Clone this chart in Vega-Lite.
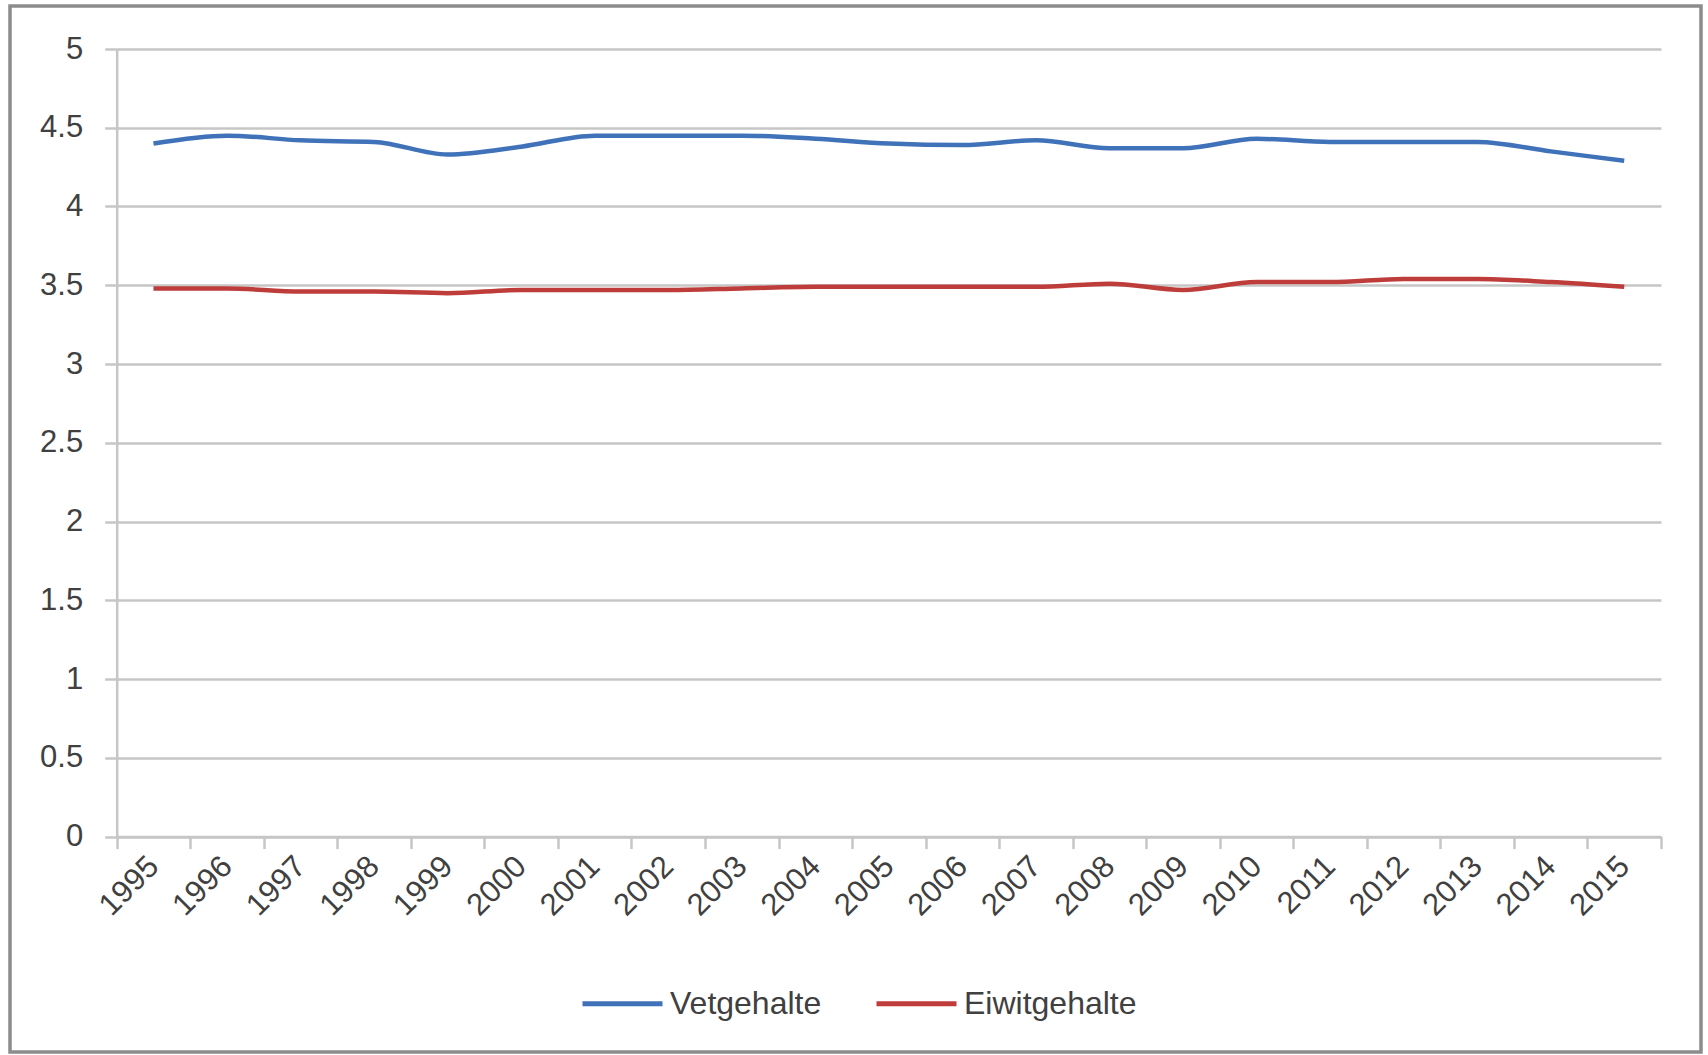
{
  "$schema": "https://vega.github.io/schema/vega-lite/v6.json",
  "width": 1691,
  "height": 1046,
  "autosize": {"type": "none"},
  "padding": {"left": 10, "top": 6, "right": 7, "bottom": 3},
  "background": "#ffffff",
  "config": {
    "view": {"stroke": "#8c8c8c", "strokeWidth": 3.5, "fill": "#ffffff"},
    "font": "Liberation Sans",
    "axis": {"labelFont": "Liberation Sans", "labelColor": "#404040"},
    "legend": {"labelFont": "Liberation Sans", "labelColor": "#404040"}
  },
  "data": {
    "values": [
      {"year": "1995", "series": "Vetgehalte", "value": 4.40},
      {"year": "1996", "series": "Vetgehalte", "value": 4.45},
      {"year": "1997", "series": "Vetgehalte", "value": 4.42},
      {"year": "1998", "series": "Vetgehalte", "value": 4.41},
      {"year": "1999", "series": "Vetgehalte", "value": 4.33},
      {"year": "2000", "series": "Vetgehalte", "value": 4.38},
      {"year": "2001", "series": "Vetgehalte", "value": 4.45},
      {"year": "2002", "series": "Vetgehalte", "value": 4.45},
      {"year": "2003", "series": "Vetgehalte", "value": 4.45},
      {"year": "2004", "series": "Vetgehalte", "value": 4.43},
      {"year": "2005", "series": "Vetgehalte", "value": 4.40},
      {"year": "2006", "series": "Vetgehalte", "value": 4.39},
      {"year": "2007", "series": "Vetgehalte", "value": 4.42},
      {"year": "2008", "series": "Vetgehalte", "value": 4.37},
      {"year": "2009", "series": "Vetgehalte", "value": 4.37},
      {"year": "2010", "series": "Vetgehalte", "value": 4.43},
      {"year": "2011", "series": "Vetgehalte", "value": 4.41},
      {"year": "2012", "series": "Vetgehalte", "value": 4.41},
      {"year": "2013", "series": "Vetgehalte", "value": 4.41},
      {"year": "2014", "series": "Vetgehalte", "value": 4.35},
      {"year": "2015", "series": "Vetgehalte", "value": 4.29},
      {"year": "1995", "series": "Eiwitgehalte", "value": 3.48},
      {"year": "1996", "series": "Eiwitgehalte", "value": 3.48},
      {"year": "1997", "series": "Eiwitgehalte", "value": 3.46},
      {"year": "1998", "series": "Eiwitgehalte", "value": 3.46},
      {"year": "1999", "series": "Eiwitgehalte", "value": 3.45},
      {"year": "2000", "series": "Eiwitgehalte", "value": 3.47},
      {"year": "2001", "series": "Eiwitgehalte", "value": 3.47},
      {"year": "2002", "series": "Eiwitgehalte", "value": 3.47},
      {"year": "2003", "series": "Eiwitgehalte", "value": 3.48},
      {"year": "2004", "series": "Eiwitgehalte", "value": 3.49},
      {"year": "2005", "series": "Eiwitgehalte", "value": 3.49},
      {"year": "2006", "series": "Eiwitgehalte", "value": 3.49},
      {"year": "2007", "series": "Eiwitgehalte", "value": 3.49},
      {"year": "2008", "series": "Eiwitgehalte", "value": 3.51},
      {"year": "2009", "series": "Eiwitgehalte", "value": 3.47},
      {"year": "2010", "series": "Eiwitgehalte", "value": 3.52},
      {"year": "2011", "series": "Eiwitgehalte", "value": 3.52},
      {"year": "2012", "series": "Eiwitgehalte", "value": 3.54},
      {"year": "2013", "series": "Eiwitgehalte", "value": 3.54},
      {"year": "2014", "series": "Eiwitgehalte", "value": 3.52},
      {"year": "2015", "series": "Eiwitgehalte", "value": 3.49}
    ]
  },
  "mark": {"type": "line", "interpolate": "monotone", "strokeWidth": 4.5},
  "encoding": {
    "x": {
      "field": "year",
      "type": "ordinal",
      "scale": {"range": [106.7, 1651], "paddingInner": 0, "paddingOuter": 0},
      "axis": {
        "title": null,
        "orient": "bottom",
        "offset": -215.5,
        "labelAngle": -45,
        "labelAlign": "right",
        "labelBaseline": "middle",
        "labelFontSize": 31,
        "labelPadding": 13,
        "tickSize": 12,
        "tickColor": "#c6c6c6",
        "tickWidth": 2.5,
        "tickBand": "extent",
        "domainColor": "#c6c6c6",
        "domainWidth": 2.5,
        "grid": false
      }
    },
    "y": {
      "field": "value",
      "type": "quantitative",
      "scale": {"domain": [0, 5], "range": [830.5, 43], "nice": false},
      "axis": {
        "title": null,
        "offset": -106.7,
        "values": [0, 0.5, 1, 1.5, 2, 2.5, 3, 3.5, 4, 4.5, 5],
        "format": "~g",
        "labelFontSize": 31,
        "labelPadding": 22,
        "tickSize": 12,
        "tickColor": "#c6c6c6",
        "tickWidth": 2.5,
        "domainColor": "#c6c6c6",
        "domainWidth": 2.5,
        "grid": true,
        "gridColor": "#c6c6c6",
        "gridWidth": 2.5
      }
    },
    "color": {
      "field": "series",
      "type": "nominal",
      "scale": {"domain": ["Vetgehalte", "Eiwitgehalte"], "range": ["#3f72b9", "#be3d3a"]},
      "legend": {
        "title": null,
        "orient": "none",
        "legendX": 570,
        "legendY": 955,
        "direction": "horizontal",
        "symbolType": "stroke",
        "symbolSize": 6400,
        "symbolStrokeWidth": 5,
        "labelFontSize": 32,
        "labelOffset": 5,
        "columnPadding": 44,
        "labelLimit": 400
      }
    }
  }
}
